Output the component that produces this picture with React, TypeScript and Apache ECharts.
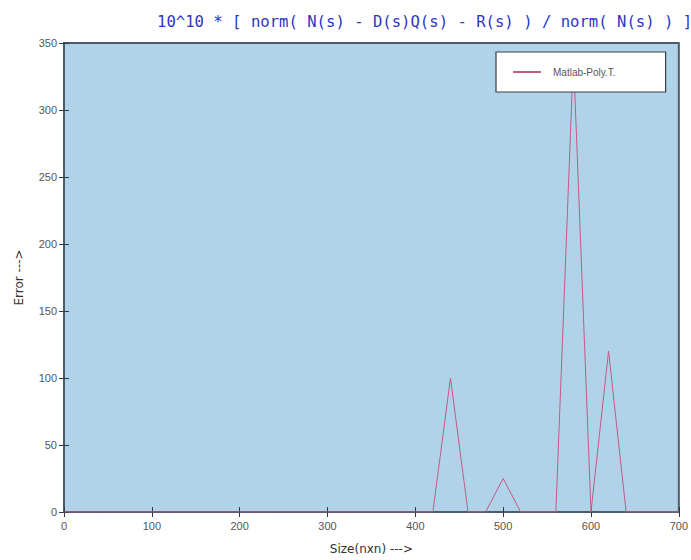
import React, { useEffect, useRef } from "react";
import * as echarts from "echarts";

// Matrix sizes (n for an n x n problem) and the scaled residual error at each size
const sizes: number[] = [
  0, 20, 40, 60, 80, 100, 120, 140, 160, 180, 200, 220, 240, 260, 280, 300,
  320, 340, 360, 380, 400, 420, 440, 460, 480, 500, 520, 540, 560, 580, 600,
  620, 640, 660, 680, 700,
];
const errors: number[] = [
  0, 0, 0, 0, 0, 0, 0, 0, 0, 0, 0, 0, 0, 0, 0, 0,
  0, 0, 0, 0, 0, 0, 100, 0, 0, 25, 0, 0, 0, 340, 0,
  120, 0, 0, 0, 0,
];
const xTicks: number[] = [0, 100, 200, 300, 400, 500, 600, 700];
const yTicks: number[] = [0, 50, 100, 150, 200, 250, 300, 350];

const seriesName = "Matlab-Poly.T.";
const titleText = "10^10 * [ norm( N(s) - D(s)Q(s) - R(s) ) / norm( N(s) ) ]";

export default function App() {
  const ref = useRef<HTMLDivElement>(null);

  useEffect(() => {
    if (!ref.current) return;
    const chart = echarts.init(ref.current, undefined, { renderer: "svg" });
    const labelStyle = {
      color: "#555",
      fontFamily: "Liberation Sans",
      fontSize: 11,
    };
    const xStep = xTicks[1] - xTicks[0];
    const yStep = yTicks[1] - yTicks[0];
    const xMin = xTicks[0];
    const xMax = xTicks[xTicks.length - 1];
    const yMin = yTicks[0];
    const yMax = yTicks[yTicks.length - 1];
    const lineColor = "#c45a86";

    chart.setOption({
      animation: false,
      backgroundColor: "#ffffff",
      title: {
        text: titleText,
        left: 152,
        top: 9,
        textStyle: {
          color: "#2b35c8",
          fontFamily: "DejaVu Sans Mono",
          fontSize: 15.6,
          fontWeight: "normal",
        },
      },
      legend: {
        data: [seriesName],
        left: 496,
        top: 52,
        orient: "vertical",
        backgroundColor: "#ffffff",
        borderColor: "#3a3f48",
        borderWidth: 1.2,
        padding: [15, 50, 15, 16],
        itemWidth: 28,
        itemHeight: 2,
        itemGap: 0,
        textStyle: {
          color: "#555",
          fontFamily: "Liberation Sans",
          fontSize: 10,
          padding: [0, 0, 0, 7],
        },
      },
      grid: {
        left: 64,
        top: 43,
        width: 616,
        height: 469,
        show: true,
        backgroundColor: "#b1d3ea",
        borderColor: "#4e5c6a",
        borderWidth: 2,
        containLabel: false,
      },
      xAxis: [
        {
          type: "value",
          min: xMin,
          max: xMax,
          interval: xStep,
          position: "bottom",
          name: "Size(nxn) --->",
          nameLocation: "middle",
          nameGap: 31,
          nameTextStyle: {
            color: "#333",
            fontFamily: "DejaVu Sans",
            fontSize: 12,
          },
          axisLine: { show: true, lineStyle: { color: "#4e5c6a", width: 2 } },
          axisTick: {
            show: true,
            inside: true,
            length: 5,
            lineStyle: { color: "#2e3a46", width: 1 },
          },
          axisLabel: { ...labelStyle, margin: 8 },
          splitLine: { show: false },
        },
        {
          type: "value",
          min: xMin,
          max: xMax,
          interval: xStep,
          position: "top",
          axisLine: { show: false },
          axisTick: {
            show: true,
            inside: true,
            length: 5,
            lineStyle: { color: "#2e3a46", width: 1 },
          },
          axisLabel: { show: false },
          splitLine: { show: false },
        },
      ],
      yAxis: [
        {
          type: "value",
          min: yMin,
          max: yMax,
          interval: yStep,
          position: "left",
          name: "Error --->",
          nameLocation: "middle",
          nameGap: 39,
          nameTextStyle: {
            color: "#333",
            fontFamily: "DejaVu Sans",
            fontSize: 12,
          },
          axisLine: { show: true, lineStyle: { color: "#4e5c6a", width: 2 } },
          axisTick: {
            show: true,
            inside: true,
            length: 5,
            lineStyle: { color: "#2e3a46", width: 1 },
          },
          axisLabel: { ...labelStyle, margin: 7 },
          splitLine: { show: false },
        },
        {
          type: "value",
          min: yMin,
          max: yMax,
          interval: yStep,
          position: "right",
          axisLine: { show: false },
          axisTick: {
            show: true,
            inside: true,
            length: 5,
            lineStyle: { color: "#2e3a46", width: 1 },
          },
          axisLabel: { show: false },
          splitLine: { show: false },
        },
      ],
      series: [
        {
          name: seriesName,
          type: "line",
          xAxisIndex: 0,
          yAxisIndex: 0,
          data: sizes.map((s, i) => [s, errors[i]]),
          symbol: "none",
          lineStyle: { color: lineColor, width: 1 },
          itemStyle: { color: lineColor },
          z: 1,
        },
      ],
    });
    return () => chart.dispose();
  }, []);

  return (
    <div
      ref={ref}
      style={{ position: "fixed", left: 0, top: 0, width: 691, height: 560 }}
    />
  );
}
